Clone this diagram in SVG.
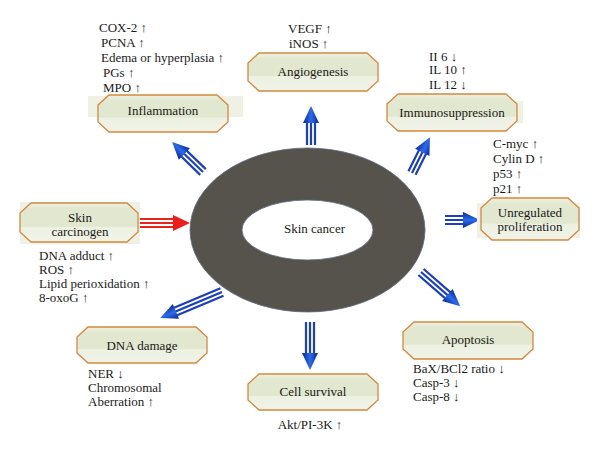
<svg xmlns="http://www.w3.org/2000/svg" width="600" height="453" viewBox="0 0 600 453">
<style>
  .t{font-family:"Liberation Serif","DejaVu Serif",serif;font-size:13px;fill:#1a1a1a}
  .c{text-anchor:middle}
  .node{fill:url(#ng);stroke:#d4883e;stroke-width:1.3}
  .bg{fill:#eef1e3}
  .sh{stroke:#1a3fbf;stroke-width:2.2;fill:none}
  .hd{fill:url(#ag)}
  .rsh{stroke:#e8231c;stroke-width:2.2;fill:none}
</style>
<defs>
  <linearGradient id="ng" x1="0" y1="0" x2="0" y2="1">
    <stop offset="0" stop-color="#eef1e2"/>
    <stop offset="0.15" stop-color="#e2e8cf"/>
    <stop offset="0.6" stop-color="#e2e8cf"/>
    <stop offset="0.62" stop-color="#edf1e2"/>
    <stop offset="1" stop-color="#f0f3e6"/>
  </linearGradient>
  <linearGradient id="ag" x1="0" y1="0" x2="0" y2="1">
    <stop offset="0" stop-color="#0a2590"/>
    <stop offset="0.5" stop-color="#2a6cf0"/>
    <stop offset="1" stop-color="#0a2590"/>
  </linearGradient>
</defs>
<rect width="600" height="453" fill="#fff"/>

<g id="ring">
  <ellipse cx="307.5" cy="230" rx="117.5" ry="82" fill="#56534d" stroke="#5a6a80" stroke-width="0.8"/>
  <ellipse cx="307.5" cy="230" rx="65.5" ry="30" fill="#fff" stroke="#5a6a80" stroke-width="0.8"/>
  <text class="t c" x="314.5" y="232.5">Skin cancer</text>
</g>

<g id="connectors">
  <g transform="translate(311,145) rotate(-90)">
    <path class="sh" d="M0,-4H23M0,0H23M0,4H23"/><polygon class="hd" points="22,-8 39,0 22,8"/>
  </g>
  <g transform="translate(203,172) rotate(-135.9)">
    <path class="sh" d="M0,-4H27M0,0H27M0,4H27"/><polygon class="hd" points="26,-8 43,0 26,8"/>
  </g>
  <g transform="translate(412,173) rotate(-63.4)">
    <path class="sh" d="M0,-4H24M0,0H24M0,4H24"/><polygon class="hd" points="23,-8 40,0 23,8"/>
  </g>
  <g transform="translate(445,220)">
    <path class="sh" d="M0,-4H19M0,0H19M0,4H19"/><polygon class="hd" points="18,-8 35,0 18,8"/>
  </g>
  <g transform="translate(138,223)">
    <path class="rsh" d="M0,-4H36M0,0H36M0,4H36"/><polygon fill="#ee1c1c" points="35,-8 52,0 35,8"/>
  </g>
  <g transform="translate(222,292) rotate(157.2)">
    <path class="sh" d="M0,-4H51M0,0H51M0,4H51"/><polygon class="hd" points="50,-8 67,0 50,8"/>
  </g>
  <g transform="translate(310,322) rotate(90)">
    <path class="sh" d="M0,-4H32M0,0H32M0,4H32"/><polygon class="hd" points="31,-8 48,0 31,8"/>
  </g>
  <g transform="translate(421,272) rotate(41.1)">
    <path class="sh" d="M0,-4H36M0,0H36M0,4H36"/><polygon class="hd" points="35,-8 52,0 35,8"/>
  </g>
</g>

<g id="inflammation">
  <rect class="bg" x="88" y="96" width="155" height="21"/>
  <polygon class="node" points="109,95 217,95 228,105 228,122 217,132 109,132 98,122 98,105"/>
  <text class="t c" x="163" y="114.5">Inflammation</text>
  <text class="t" x="99" y="31.5">COX-2 ↑</text>
  <text class="t" x="101" y="47">PCNA ↑</text>
  <text class="t" x="101" y="61.5">Edema or hyperplasia ↑</text>
  <text class="t" x="103" y="76.5">PGs ↑</text>
  <text class="t" x="103" y="91.5">MPO ↑</text>
</g>

<g id="angiogenesis">
  <polygon class="node" points="259,53 367,53 378,63 378,81 367,91 259,91 248,81 248,63"/>
  <text class="t c" x="313" y="75.5">Angiogenesis</text>
  <text class="t" x="288" y="32.5">VEGF ↑</text>
  <text class="t" x="289" y="47.5">iNOS ↑</text>
</g>

<g id="immunosuppression">
  <rect class="bg" x="390" y="101" width="133" height="22"/>
  <polygon class="node" points="398,94 506,94 517,104 517,121 506,131 398,131 387,121 387,104"/>
  <text class="t c" x="452" y="116.5">Immunosuppression</text>
  <text class="t" x="429" y="60.5">II 6 ↓</text>
  <text class="t" x="429" y="74">IL 10 ↑</text>
  <text class="t" x="429" y="88.5">IL 12 ↓</text>
</g>

<g id="proliferation">
  <rect class="bg" x="477" y="203" width="103" height="35"/>
  <polygon class="node" points="492,198 568,198 579,208 579,230 568,240 492,240 481,230 481,208"/>
  <text class="t c" x="530" y="216.5">Unregulated</text>
  <text class="t c" x="530" y="230.5">proliferation</text>
  <text class="t" x="493" y="147.5">C-myc ↑</text>
  <text class="t" x="493" y="162.5">Cylin D ↑</text>
  <text class="t" x="493" y="177.5">p53 ↑</text>
  <text class="t" x="493" y="192.5">p21 ↑</text>
</g>

<g id="skin-carcinogen">
  <rect class="bg" x="20" y="202" width="120" height="42"/>
  <polygon class="node" points="31,203 127,203 138,213 138,232 127,242 31,242 20,232 20,213"/>
  <text class="t c" x="80" y="221.5">Skin</text>
  <text class="t c" x="80" y="235.5">carcinogen</text>
  <text class="t" x="39" y="259.5">DNA adduct ↑</text>
  <text class="t" x="39" y="273.5">ROS ↑</text>
  <text class="t" x="39" y="287.5">Lipid perioxidation ↑</text>
  <text class="t" x="39" y="301.5">8-oxoG ↑</text>
</g>

<g id="dna-damage">
  <polygon class="node" points="88,327 196,327 207,337 207,353 196,363 88,363 77,353 77,337"/>
  <text class="t c" x="142" y="349.5">DNA damage</text>
  <text class="t" x="88" y="377.5">NER ↓</text>
  <text class="t" x="88" y="391.5">Chromosomal</text>
  <text class="t" x="88" y="406">Aberration ↑</text>
</g>

<g id="cell-survival">
  <polygon class="node" points="259,374 367,374 378,384 378,400 367,410 259,410 248,400 248,384"/>
  <text class="t c" x="313" y="395.5">Cell survival</text>
  <text class="t c" x="310" y="428.5">Akt/PI-3K ↑</text>
</g>

<g id="apoptosis">
  <polygon class="node" points="414,322 522,322 533,332 533,349 522,359 414,359 403,349 403,332"/>
  <text class="t c" x="468" y="343.5">Apoptosis</text>
  <text class="t" x="413" y="372.5">BaX/BCl2 ratio ↓</text>
  <text class="t" x="413" y="386.5">Casp-3 ↓</text>
  <text class="t" x="413" y="400.5">Casp-8 ↓</text>
</g>
</svg>
